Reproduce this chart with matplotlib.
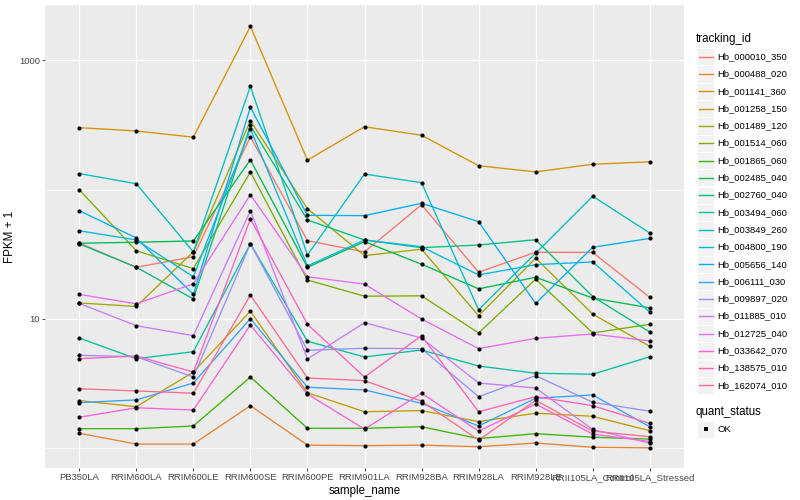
import numpy as np
import matplotlib
matplotlib.use('Agg')
import matplotlib.pyplot as plt
from matplotlib.patches import Rectangle
from matplotlib.ticker import NullFormatter, FixedFormatter

plt.rcParams['font.family'] = ['Liberation Sans', 'DejaVu Sans']

samples = ['PB350LA', 'RRIM600LA', 'RRIM600LE', 'RRIM600SE', 'RRIM600PE',
           'RRIM901LA', 'RRIM928BA', 'RRIM928LA', 'RRIM928LE',
           'RRII105LA_Control', 'RRII105LA_Stressed']

tracking_ids = ['Hb_000010_350', 'Hb_000488_020', 'Hb_001141_360', 'Hb_001258_150',
                'Hb_001489_120', 'Hb_001514_060', 'Hb_001865_060', 'Hb_002485_040',
                'Hb_002760_040', 'Hb_003494_060', 'Hb_003849_260', 'Hb_004800_190',
                'Hb_005656_140', 'Hb_006111_030', 'Hb_009897_020', 'Hb_011885_010',
                'Hb_012725_040', 'Hb_033642_070', 'Hb_138575_010', 'Hb_162074_010']

# ggplot default hue palette for 20 levels
colors = ['#F8766D', '#EA8331', '#D89000', '#C09B00', '#A3A500', '#7CAE00', '#39B600',
          '#00BB4E', '#00BF7D', '#00C1A3', '#00BFC4', '#00BAE0', '#00B0F6', '#35A2FF',
          '#9590FF', '#C77CFF', '#E76BF3', '#FA62DB', '#FF62BC', '#FF6C91']

# FPKM + 1, one list per gene, in sample order
hb_000010_350 = [38.7, 25.1, 30.3, 256, 40.3, 33.0, 76.4, 23.0, 32.8, 32.7, 14.7]
hb_000488_020 = [1.31, 1.08, 1.08, 2.14, 1.06, 1.05, 1.06, 1.03, 1.10, 1.02, 1.01]
hb_001141_360 = [301, 284, 254, 1828, 169, 306, 263, 153, 137, 157, 164]
hb_001258_150 = [2.34, 2.10, 3.89, 11.5, 2.69, 1.92, 1.96, 1.61, 1.87, 1.77, 1.37]
hb_001489_120 = [13.3, 12.5, 33.0, 341, 71.2, 30.9, 34.6, 10.6, 29.5, 10.9, 6.15]
hb_001514_060 = [99.8, 33.7, 24.5, 137, 20.0, 15.0, 15.1, 7.80, 20.3, 7.80, 9.1]
hb_001865_060 = [1.42, 1.42, 1.49, 3.56, 1.43, 1.43, 1.47, 1.19, 1.30, 1.22, 1.18]
hb_002485_040 = [38.5, 39.2, 40.1, 170, 25.1, 39.6, 26.5, 17.1, 21.0, 14.5, 12.2]
hb_002760_040 = [38.1, 25.1, 14.3, 313, 58.2, 40.8, 35.6, 37.3, 41.0, 14.9, 7.93]
hb_003494_060 = [7.13, 4.93, 5.59, 38.2, 6.73, 5.09, 5.76, 4.33, 3.81, 3.74, 5.11]
hb_003849_260 = [133, 111, 33.0, 629, 31.2, 132, 113, 11.8, 32.2, 88.8, 46.2]
hb_004800_190 = [48.1, 40.8, 21.2, 294, 25.7, 40.8, 36.2, 21.9, 26.3, 27.6, 11.3]
hb_005656_140 = [68.7, 42.3, 15.5, 433, 63.3, 62.9, 78.4, 56.5, 13.2, 35.8, 42.0]
hb_006111_030 = [2.26, 2.37, 3.20, 10.05, 2.97, 2.83, 2.23, 1.49, 2.44, 2.59, 1.47]
hb_009897_020 = [5.24, 5.11, 3.56, 38.2, 5.73, 5.94, 5.90, 2.51, 3.65, 2.27, 1.94]
hb_011885_010 = [13.2, 8.88, 7.43, 68.7, 4.91, 9.36, 7.13, 3.20, 2.93, 1.40, 1.10]
hb_012725_040 = [15.5, 13.1, 18.7, 91.3, 21.2, 18.6, 10.0, 5.90, 7.09, 7.66, 6.76]
hb_033642_070 = [1.74, 2.06, 1.98, 8.99, 2.63, 1.41, 2.67, 1.36, 2.20, 1.29, 1.13]
hb_138575_010 = [4.93, 5.18, 3.89, 59.3, 9.1, 3.56, 7.43, 1.92, 2.51, 2.14, 1.56]
hb_162074_010 = [2.89, 2.78, 2.67, 15.3, 3.50, 3.34, 2.32, 1.16, 2.35, 1.36, 1.23]

series = [hb_000010_350, hb_000488_020, hb_001141_360, hb_001258_150, hb_001489_120,
          hb_001514_060, hb_001865_060, hb_002485_040, hb_002760_040, hb_003494_060,
          hb_003849_260, hb_004800_190, hb_005656_140, hb_006111_030, hb_009897_020,
          hb_011885_010, hb_012725_040, hb_033642_070, hb_138575_010, hb_162074_010]

W, H = 800, 500
fig = plt.figure(figsize=(W / 100, H / 100), dpi=100)
ax = fig.add_axes([45 / W, 1 - 468 / H, (684 - 45) / W, (468 - 5) / H])
ax.set_facecolor('#EBEBEB')
for s in ax.spines.values():
    s.set_visible(False)

x = np.arange(1, len(samples) + 1)
for vals, col in zip(series, colors):
    ax.plot(x, vals, color=col, lw=0.95, zorder=3)
for vals in series:
    ax.plot(x, vals, 'o', color='black', ms=3.0, mew=0, zorder=4)

ax.set_yscale('log')
ax.set_ylim(10 ** -0.1515, 10 ** 3.4266)
ax.set_xlim(0.4, len(samples) + 0.6)
ax.set_yticks([10, 1000])
ax.yaxis.set_major_formatter(FixedFormatter(['10', '1000']))
ax.set_yticks([1, 100], minor=True)
ax.yaxis.set_minor_formatter(NullFormatter())
ax.set_xticks(x)
ax.set_xticklabels(samples)
ax.tick_params(which='major', length=2.2, width=0.6, color='#333333',
               labelcolor='#444444', labelsize=6.8, pad=1.5)
ax.tick_params(which='minor', length=0)
ax.grid(which='major', color='white', lw=0.9)
ax.grid(which='minor', axis='y', color='white', lw=0.5)
ax.set_axisbelow(True)
ax.set_xlabel('sample_name', fontsize=8.3, labelpad=2)
ax.set_ylabel('FPKM + 1', fontsize=8.3, labelpad=2)

# legends drawn by hand in pixel coords (ggplot style keys)
lg = fig.add_axes([0, 0, 1, 1])
lg.set_xlim(0, W)
lg.set_ylim(H, 0)
lg.axis('off')
lg.text(696, 39, 'tracking_id', fontsize=8.3, va='center', ha='left')
for i, (name, col) in enumerate(zip(tracking_ids, colors)):
    yc = 56.7 + i * 17.3
    lg.add_patch(Rectangle((697, yc - 8.6), 17.2, 17.2, facecolor='#F2F2F2',
                           edgecolor='white', lw=0.5))
    lg.plot([698.5, 712.5], [yc, yc], color=col, lw=1.0)
    lg.text(717, yc, name, fontsize=6.8, va='center', ha='left')

lg.text(696, 412.5, 'quant_status', fontsize=8.3, va='center', ha='left')
lg.add_patch(Rectangle((697, 429.3 - 8.6), 17.2, 17.2, facecolor='#F2F2F2',
                       edgecolor='white', lw=0.5))
lg.plot([705.6], [429.3], 's', color='black', ms=2.6, mew=0)
lg.text(717, 429.3, 'OK', fontsize=6.8, va='center', ha='left')

fig.savefig('out.png', dpi=100)
